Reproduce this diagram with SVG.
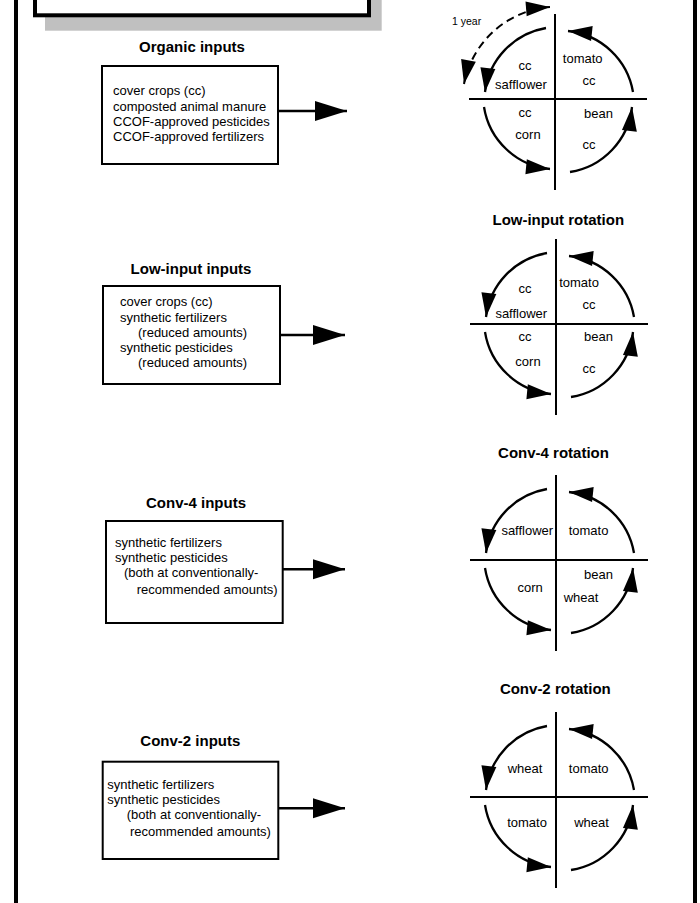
<svg xmlns="http://www.w3.org/2000/svg" width="700" height="903" viewBox="0 0 700 903">
<defs>
<style>
text{font-family:"Liberation Sans",Arial,Helvetica,sans-serif;fill:#000}
.t{font-size:15px;font-weight:bold;text-anchor:middle}
.b{font-size:13px}
.l{font-size:13px;text-anchor:middle}
.box{fill:#fff;stroke:#000;stroke-width:2}
.ax{stroke:#000;stroke-width:2;fill:none}
.arc{stroke:#000;stroke-width:2.3;fill:none;marker-end:url(#ah)}
.conn{stroke:#000;stroke-width:2.5;fill:none;marker-end:url(#big)}
</style>
<marker id="ah" markerUnits="userSpaceOnUse" markerWidth="30" markerHeight="20" viewBox="-27 -10 30 20" refX="0" refY="0" orient="auto-start-reverse">
<path d="M0,0 L-24,-7.5 L-24,7.5 Z" fill="#000"/>
</marker>
<marker id="big" markerUnits="userSpaceOnUse" markerWidth="36" markerHeight="24" viewBox="-34 -12 36 24" refX="0" refY="0" orient="auto">
<path d="M0,0 L-32,-10 L-32,10 Z" fill="#000"/>
</marker>
<g id="quad">
<line class="ax" x1="0" y1="-85" x2="0" y2="91"/>
<line class="ax" x1="-86" y1="0" x2="92" y2="0"/>
<path class="arc" d="M-9,-71 A74,74 0 0 0 -70,-7"/>
<path class="arc" d="M78,-7 A74,74 0 0 0 13,-68"/>
<path class="arc" d="M-71,8 A74,74 0 0 0 -5,70"/>
<path class="arc" d="M15,73 A74,74 0 0 0 77,8"/>
</g>
</defs>
<rect width="700" height="903" fill="#fff"/>

<g id="frame">
<rect x="45" y="-10" width="336.7" height="40.7" fill="#c0c0c0"/>
<rect x="35" y="-20" width="334" height="35.3" fill="#fff" stroke="#000" stroke-width="4"/>
<rect x="14" y="0" width="4" height="903" fill="#000"/>
<rect x="693" y="0" width="4" height="903" fill="#000"/>
</g>

<g id="organic-inputs">
<text class="t" x="192" y="52">Organic inputs</text>
<rect class="box" x="102" y="66" width="176" height="98"/>
<text class="b" x="113" y="95">cover crops (cc)</text>
<text class="b" x="113" y="110.5">composted animal manure</text>
<text class="b" x="113" y="126">CCOF-approved pesticides</text>
<text class="b" x="113" y="141">CCOF-approved fertilizers</text>
</g>

<g id="organic-rotation">
<use href="#quad" transform="translate(555,99)"/>
<path d="M464,84 A95,95 0 0 1 550,7" stroke="#000" stroke-width="2" fill="none" stroke-dasharray="8,5" marker-start="url(#ah)" marker-end="url(#ah)"/>
<text x="452" y="25" style="font-size:10.5px">1 year</text>
<text class="l" x="525" y="70">cc</text>
<text class="l" x="521" y="89">safflower</text>
<text class="l" x="582.7" y="63">tomato</text>
<text class="l" x="589" y="85">cc</text>
<text class="l" x="525" y="117">cc</text>
<text class="l" x="528" y="139">corn</text>
<text class="l" x="598.5" y="118">bean</text>
<text class="l" x="589" y="149">cc</text>
</g>

<g id="lowinput-inputs">
<text class="t" x="191" y="274">Low-input inputs</text>
<rect class="box" x="103" y="286" width="177" height="98"/>
<text class="b" x="120" y="306">cover crops (cc)</text>
<text class="b" x="120" y="321.5">synthetic fertilizers</text>
<text class="b" x="138" y="336.7">(reduced amounts)</text>
<text class="b" x="120" y="351.7">synthetic pesticides</text>
<text class="b" x="138" y="367">(reduced amounts)</text>
</g>

<g id="lowinput-rotation">
<text class="t" x="558.3" y="225">Low-input rotation</text>
<use href="#quad" transform="translate(556,324)"/>
<text class="l" x="525" y="293">cc</text>
<text class="l" x="521.3" y="317.5">safflower</text>
<text class="l" x="579" y="286.7">tomato</text>
<text class="l" x="589" y="309">cc</text>
<text class="l" x="525" y="340.7">cc</text>
<text class="l" x="528" y="365.7">corn</text>
<text class="l" x="598.5" y="341">bean</text>
<text class="l" x="589" y="373">cc</text>
</g>

<g id="conv4-inputs">
<text class="t" x="196" y="508">Conv-4 inputs</text>
<rect class="box" x="106" y="521" width="176.7" height="102"/>
<text class="b" x="115" y="546.7">synthetic fertilizers</text>
<text class="b" x="115" y="561.7">synthetic pesticides</text>
<text class="b" x="124" y="577">(both at conventionally-</text>
<text class="b" x="136.7" y="594">recommended amounts)</text>
</g>

<g id="conv4-rotation">
<text class="t" x="553.5" y="458">Conv-4 rotation</text>
<use href="#quad" transform="translate(556,560)"/>
<text class="l" x="527.3" y="535">safflower</text>
<text class="l" x="588.5" y="535">tomato</text>
<text class="l" x="530.2" y="591.7">corn</text>
<text class="l" x="598.5" y="579">bean</text>
<text class="l" x="581" y="601.7">wheat</text>
</g>

<g id="conv2-inputs">
<text class="t" x="190.3" y="746">Conv-2 inputs</text>
<rect class="box" x="102.7" y="761.7" width="175.6" height="97.3"/>
<text class="b" x="107.3" y="789">synthetic fertilizers</text>
<text class="b" x="107.3" y="804">synthetic pesticides</text>
<text class="b" x="126.7" y="819.3">(both at conventionally-</text>
<text class="b" x="130" y="836">recommended amounts)</text>
</g>

<g id="conv2-rotation">
<text class="t" x="555.3" y="694">Conv-2 rotation</text>
<use href="#quad" transform="translate(556,797)"/>
<text class="l" x="525" y="772.7">wheat</text>
<text class="l" x="588.7" y="772.7">tomato</text>
<text class="l" x="527" y="827.3">tomato</text>
<text class="l" x="591.5" y="827.3">wheat</text>
</g>

<g id="connectors">
<line class="conn" x1="278" y1="111" x2="347" y2="111"/>
<line class="conn" x1="280" y1="335" x2="345" y2="335"/>
<line class="conn" x1="282.7" y1="569.3" x2="345" y2="569.3"/>
<line class="conn" x1="278.3" y1="808.3" x2="345" y2="808.3"/>
</g>
</svg>
